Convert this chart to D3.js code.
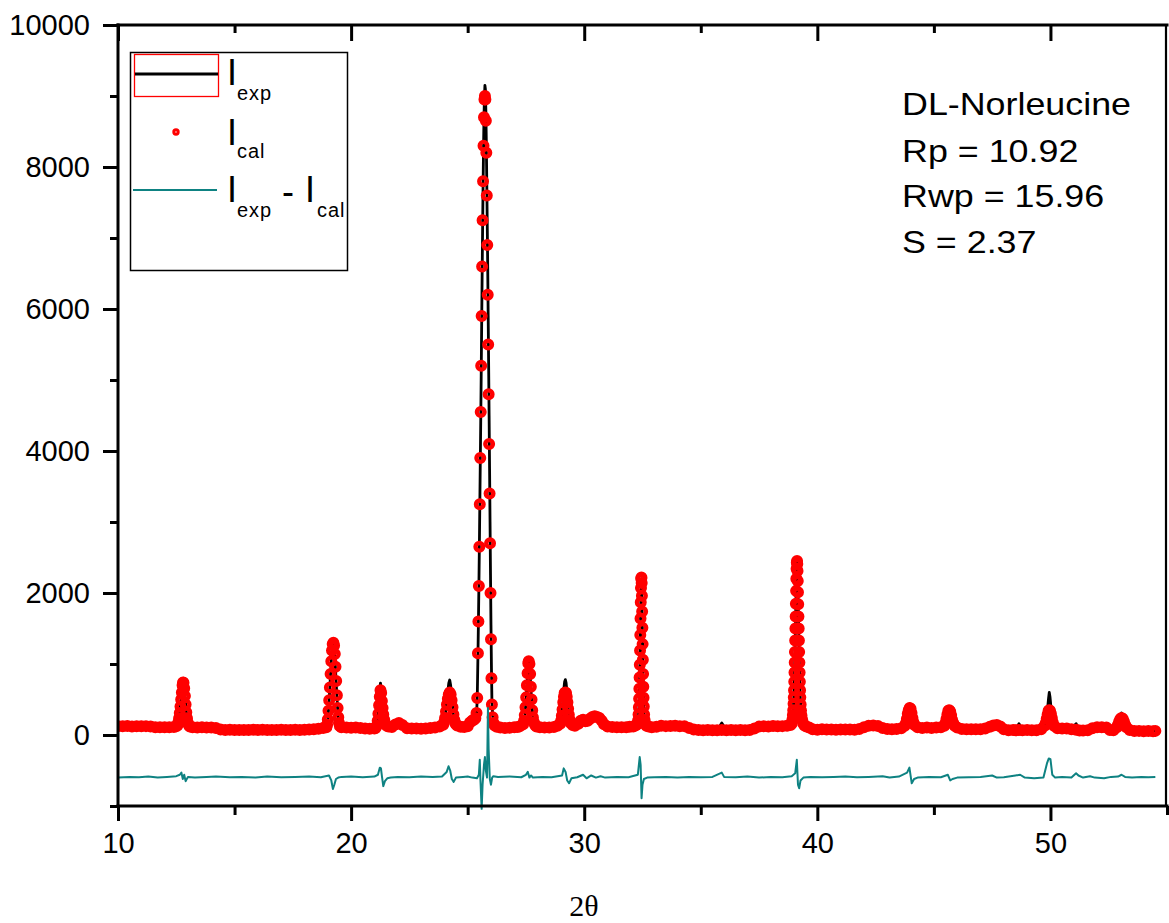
<!DOCTYPE html>
<html><head><meta charset="utf-8">
<script src="https://cdn.jsdelivr.net/npm/d3@7"></script>
<style>body{margin:0;background:#fff}svg{display:block}</style>
</head><body>
<svg id="chart" width="1169" height="923"></svg>
<script>
// ---- data ----
const twoTheta = [
10.0,10.2,10.4,10.6,10.8,11.0,11.2,11.4,11.6,11.8,12.0,12.2,12.4,
12.52,12.56,12.59,12.62,12.65,12.68,12.71,12.74,12.77,12.79,12.81,12.84,12.87,12.90,12.93,12.96,12.99,13.03,13.08,
13.2,13.4,13.6,13.8,14.0,14.2,14.4,14.6,14.8,15.0,15.2,15.4,15.6,15.8,16.0,16.2,16.4,16.6,16.8,17.0,17.2,17.4,17.6,17.8,18.0,18.2,18.4,18.6,18.8,
18.94,18.97,19.00,19.03,19.06,19.09,19.12,19.15,19.18,19.21,19.24,19.27,19.30,19.33,19.36,19.39,19.42,19.45,19.48,19.52,19.58,
19.8,20.0,20.2,20.4,20.6,20.8,21.0,
21.05,21.10,21.14,21.17,21.20,21.23,21.26,21.29,21.32,21.35,21.38,21.42,21.47,21.53,21.60,
21.75,21.9,22.05,22.2,22.4,22.6,22.8,23.0,23.2,23.4,23.6,23.8,
23.95,23.99,24.03,24.07,24.11,24.15,24.19,24.23,24.27,24.31,24.35,24.39,24.43,24.48,24.55,
24.7,24.85,25.0,25.1,25.2,25.27,25.33,25.38,25.41,
25.44,25.46,25.48,25.50,25.52,25.54,25.56,25.58,25.60,25.62,25.64,25.66,25.68,25.70,25.72,25.74,25.76,25.78,25.80,25.82,25.84,25.86,25.88,25.90,25.92,25.94,25.96,25.98,26.00,26.02,26.04,
26.07,26.11,26.16,26.25,26.4,26.6,26.8,27.0,27.15,27.25,
27.38,27.42,27.45,27.48,27.51,27.54,27.57,27.60,27.62,27.65,27.68,27.71,27.74,27.77,27.80,27.84,27.89,27.95,
28.1,28.3,28.5,28.7,28.85,
28.97,29.01,29.04,29.07,29.10,29.13,29.16,29.19,29.22,29.25,29.28,29.31,29.34,29.38,29.43,29.50,29.6,
29.75,29.85,29.95,30.05,30.15,30.25,30.35,30.45,30.55,30.65,30.75,30.85,
31.0,31.2,31.4,31.6,31.8,31.95,32.10,
32.20,32.28,32.31,32.33,32.345,32.355,32.365,32.375,32.385,32.395,32.405,32.415,32.425,32.435,32.445,32.455,32.465,32.475,32.485,32.495,32.505,32.515,32.525,32.535,32.545,32.555,32.57,32.59,32.62,32.67,32.76,
32.9,33.1,33.3,33.5,33.7,33.9,34.1,34.3,34.5,34.7,34.9,35.1,35.3,35.5,35.7,35.9,36.1,36.3,36.5,36.7,36.9,37.1,37.3,37.5,37.7,37.9,38.1,38.3,38.5,38.7,
38.85,38.90,38.93,38.95,38.965,38.98,38.99,39.00,39.01,39.02,39.03,39.04,39.05,39.06,39.07,39.08,39.09,39.10,39.11,39.12,39.13,39.14,39.15,39.16,39.17,39.18,39.19,39.20,39.21,39.22,39.23,39.24,39.25,39.26,39.27,39.285,39.30,39.32,39.35,39.39,39.45,39.53,
39.65,39.8,40.0,40.2,40.4,40.6,40.8,41.0,41.2,41.4,41.6,41.8,42.0,42.2,42.4,42.6,42.8,43.0,43.2,43.4,43.6,
43.75,43.80,43.84,43.88,43.92,43.96,44.00,44.04,44.08,44.12,44.17,
44.3,44.5,44.7,44.9,45.1,45.3,
45.45,45.50,45.54,45.58,45.62,45.66,45.70,45.74,45.78,45.83,45.89,
46.0,46.2,46.4,46.6,46.8,47.0,47.2,47.4,47.55,47.7,47.85,48.0,48.2,48.4,48.5,48.65,48.8,49.0,49.2,49.4,49.6,
49.75,49.80,49.84,49.88,49.92,49.95,49.98,50.02,50.06,50.10,50.15,
50.3,50.5,50.7,50.9,51.1,51.25,51.4,51.6,51.8,52.0,52.2,52.4,52.55,52.7,
52.85,52.90,52.95,53.00,53.05,53.10,53.15,53.20,53.26,
53.4,53.6,53.8,54.0,54.2,54.4,54.5
];
const iExp = [
125,120,128,122,126,120,127,118,108,112,106,112,115,
125,150,190,250,330,430,540,650,750,790,770,680,560,440,330,240,180,140,120,
108,104,110,102,106,98,75,70,76,72,68,74,70,76,68,72,67,74,70,76,69,73,77,71,74,78,82,90,100,
110,150,230,350,500,680,870,1040,1180,1270,1290,1240,1110,930,740,550,380,250,170,125,108,
104,100,106,98,90,86,92,
105,140,220,330,470,620,730,650,520,400,300,220,160,130,118,
112,150,170,140,95,88,92,86,94,98,105,120,
150,190,260,360,490,620,730,775,700,560,420,300,210,160,135,
115,110,120,180,210,215,230,300,500,
1100,1550,2050,2600,3200,3800,4400,5050,5750,6450,7100,7700,8250,8700,9000,9150,9100,8800,8350,7800,7200,6600,5900,5200,4500,3750,3000,2250,1550,950,500,
280,180,135,115,105,100,104,108,115,125,
150,190,260,370,510,680,850,990,1040,980,840,670,500,360,250,180,140,120,
108,104,108,115,130,
160,210,290,400,530,660,750,780,740,640,510,390,290,210,165,140,130,
160,200,215,195,200,230,255,265,255,240,200,150,
118,110,106,112,108,115,120,
135,150,200,280,380,500,640,800,980,1180,1400,1620,1850,2050,2180,2200,2120,1950,1730,1500,1270,1050,850,670,520,400,290,210,160,130,120,
110,115,130,125,130,128,122,126,100,75,70,66,72,68,65,170,68,72,66,70,68,74,90,120,125,118,128,122,125,130,
140,160,210,270,340,430,520,620,740,870,1010,1160,1320,1490,1660,1840,2020,2190,2330,2420,2440,2400,2300,2160,2000,1830,1660,1490,1320,1160,1010,870,740,620,520,420,340,270,210,165,135,120,
105,80,76,80,74,78,72,80,75,78,74,85,110,130,135,128,100,84,80,86,95,
130,170,240,330,410,440,410,330,250,180,140,
110,100,104,98,105,110,
130,170,230,300,360,380,350,290,220,170,130,
105,85,80,84,78,82,90,115,135,140,120,82,66,70,68,160,66,70,64,68,80,
130,180,260,380,520,600,540,400,270,180,130,
95,90,92,80,160,64,62,66,95,110,108,105,70,68,
110,150,210,270,310,280,210,150,110,
70,55,58,52,56,54,58
];
const iCal = [
125,122,126,120,124,122,125,120,110,110,108,110,114,
125,145,180,235,310,400,500,600,700,740,735,660,550,430,320,235,175,140,120,
110,105,108,104,105,100,78,72,74,70,70,72,71,74,70,73,69,72,71,74,70,72,75,72,74,77,80,88,98,
110,145,220,340,490,670,860,1040,1190,1280,1300,1260,1140,960,760,560,380,250,170,125,108,
105,102,104,100,92,88,90,
100,130,200,300,420,540,630,590,480,380,290,215,160,130,118,
112,148,168,140,96,90,90,88,92,97,104,118,
145,180,240,330,430,510,570,600,570,490,390,290,210,160,135,
115,112,122,175,205,215,235,310,520,
1150,1600,2100,2650,3250,3900,4550,5200,5900,6600,7250,7800,8300,8700,8950,9000,8950,8650,8200,7600,6900,6200,5500,4800,4100,3400,2700,2000,1350,800,430,
250,170,135,115,106,100,102,108,114,125,
150,200,280,390,530,700,870,1010,1040,1000,860,680,500,350,245,180,140,120,
110,104,106,114,130,
160,200,270,360,460,540,590,600,590,540,460,370,285,210,165,140,130,
160,200,215,195,200,230,255,265,255,240,200,150,
118,112,108,110,109,115,120,
135,150,205,290,390,510,650,810,990,1190,1410,1640,1870,2070,2200,2220,2140,1960,1740,1510,1280,1060,860,680,525,400,290,210,160,130,120,
110,115,130,125,128,130,122,125,100,76,70,68,70,68,66,70,68,70,67,70,68,72,90,118,124,120,126,122,125,130,
140,160,215,280,350,440,530,630,750,880,1020,1170,1330,1500,1670,1850,2030,2200,2340,2430,2450,2410,2310,2170,2010,1840,1670,1500,1330,1170,1020,880,750,630,530,430,345,275,215,165,135,120,
106,82,75,80,76,78,74,79,76,78,75,85,110,130,135,128,100,85,80,86,95,
130,165,225,300,350,380,370,310,240,180,140,
110,100,104,100,104,110,
130,170,225,290,340,350,330,280,215,170,130,
105,86,80,82,80,82,90,115,135,140,120,82,68,70,68,70,66,70,66,68,80,
130,170,230,290,340,350,340,300,240,175,130,
95,90,92,80,75,64,62,66,95,110,108,105,70,68,
110,145,190,225,240,230,190,145,110,
70,55,58,52,56,54,58
];
// difference curve (I_exp - I_cal, shown offset below the pattern)
const diffTheta = [
10.0,10.5,10.9,11.3,11.7,12.1,12.5,
12.65,12.72,12.78,12.84,12.9,13.0,
13.3,13.8,14.2,14.8,15.3,15.9,16.4,17.0,17.6,18.2,18.7,
19.05,19.15,19.22,19.28,19.35,19.45,19.6,
20.0,20.5,21.0,
21.15,21.23,21.28,21.33,21.38,21.45,21.55,21.7,
22.0,22.5,23.0,23.5,23.9,
24.1,24.18,24.25,24.32,24.4,24.5,
24.8,25.0,25.2,
25.4,25.48,25.52,25.55,25.6,25.64,25.7,25.74,25.78,25.83,25.87,25.9,25.95,26.0,26.05,26.1,
26.3,26.8,27.3,
27.5,27.58,27.65,27.72,27.8,28.2,28.6,
29.05,29.12,29.2,29.27,29.35,29.45,29.7,
29.95,30.1,30.3,30.5,30.7,30.9,31.4,31.9,
32.3,32.38,32.42,32.46,32.5,32.56,32.7,
33.0,33.5,34.0,34.5,35.0,35.5,35.9,36.0,36.5,37.0,37.5,38.0,38.5,38.9,
39.05,39.12,39.17,39.22,39.28,39.4,
39.7,40.2,40.7,41.2,41.7,42.2,42.8,43.1,43.5,
43.85,43.95,44.05,44.15,44.3,
44.8,45.3,
45.6,45.7,45.8,46.0,
46.5,47.0,47.5,47.7,48.0,48.5,48.7,48.9,49.3,49.7,
49.85,49.93,50.0,50.08,50.2,
50.5,50.9,51.1,51.2,51.4,51.7,51.9,52.3,52.6,52.9,
53.05,53.2,53.5,53.9,54.2,54.5
];
const iDiff = [
-600,-590,-595,-585,-600,-590,-580,
-560,-530,-620,-560,-650,-590,
-600,-590,-585,-595,-590,-600,-585,-595,-590,-585,-595,
-570,-640,-760,-700,-620,-600,-590,
-585,-595,-585,
-560,-460,-470,-600,-720,-650,-610,-600,
-590,-595,-585,-590,-585,
-520,-440,-500,-620,-660,-600,
-590,-585,-600,
-610,-560,-350,-650,-1040,-700,-420,-310,-500,-600,380,-200,-620,-700,-600,-580,
-590,-585,-595,
-560,-520,-600,-570,-600,-590,-595,
-570,-470,-520,-640,-680,-610,-595,
-560,-610,-570,-600,-580,-600,-590,-595,
-560,-310,-420,-890,-700,-620,-600,
-595,-590,-600,-590,-595,-590,-530,-590,-595,-585,-600,-590,-595,-580,
-540,-350,-700,-750,-640,-600,
-590,-595,-590,-585,-595,-590,-580,-600,-585,
-530,-460,-680,-620,-600,
-590,-595,
-560,-640,-620,-600,
-595,-590,-570,-600,-595,-570,-560,-600,-610,-600,
-400,-330,-340,-560,-600,
-590,-600,-540,-570,-600,-580,-600,-610,-590,-585,
-560,-590,-600,-590,-595,-590
];
const xMajorTicks = [10, 20, 30, 40, 50];
const xMinorTicks = [15, 25, 35, 45, 55];
const yMajorTicks = [0, 2000, 4000, 6000, 8000, 10000];
const yMinorTicks = [-1000, 1000, 3000, 5000, 7000, 9000];
const infoLines = ["DL-Norleucine", "Rp = 10.92", "Rwp = 15.96", "S = 2.37"];
const xTitle = "2θ";

// ---- drawing ----
const SANS = "'Liberation Sans', Arial, Helvetica, sans-serif";
const RED = "#ff0000", TEAL = "#0e8282";
const svg = d3.select("#chart");
const x = d3.scaleLinear().domain([10, 55]).range([118, 1167]);
const y = d3.scaleLinear().domain([-1000, 10000]).range([806, 25]);

svg.append("defs").append("clipPath").attr("id", "plotClip")
  .append("rect").attr("x", x(10)).attr("y", y(10000))
  .attr("width", x(55) - x(10)).attr("height", y(-1000) - y(10000) + 4);

const plot = svg.append("g").attr("clip-path", "url(#plotClip)");
const n = Math.min(twoTheta.length, iExp.length, iCal.length);
const expPts = d3.range(n).map(i => [twoTheta[i], iExp[i]]);
const calPts = d3.range(n).map(i => [twoTheta[i], iCal[i]]);
const m = Math.min(diffTheta.length, iDiff.length);
const diffPts = d3.range(m).map(i => [diffTheta[i], iDiff[i]]);
const line = d3.line().x(d => x(d[0])).y(d => y(d[1]));

plot.append("path").datum(expPts).attr("d", line)
  .attr("fill", "none").attr("stroke", "#000").attr("stroke-width", 2.8)
  .attr("stroke-linejoin", "round");

plot.append("g").selectAll("circle").data(calPts).join("circle")
  .attr("cx", d => x(d[0])).attr("cy", d => y(d[1])).attr("r", 3.8)
  .attr("fill", "none").attr("stroke", RED).attr("stroke-width", 4.4);

plot.append("path").datum(diffPts).attr("d", line)
  .attr("fill", "none").attr("stroke", TEAL).attr("stroke-width", 2)
  .attr("stroke-linejoin", "round");

// axes
function styleAxis(g) {
  g.select(".domain").remove();
  g.selectAll(".tick line").attr("stroke", "#000").attr("stroke-width", 3);
  g.selectAll(".tick text").attr("fill", "#000").style("font-family", SANS).style("font-size", "29px");
}
svg.append("g").attr("transform", `translate(0,${y(-1000)})`)
  .call(d3.axisBottom(x).tickValues(xMajorTicks).tickSize(15).tickPadding(11).tickFormat(d3.format("d")))
  .call(styleAxis);
svg.append("g").attr("transform", `translate(0,${y(-1000)})`)
  .call(d3.axisBottom(x).tickValues(xMinorTicks).tickSize(9).tickFormat(""))
  .call(styleAxis);
svg.append("g").attr("transform", `translate(0,${y(10000)})`)
  .call(d3.axisTop(x).tickValues(xMajorTicks).tickSize(-16).tickFormat(""))
  .call(styleAxis);
svg.append("g").attr("transform", `translate(0,${y(10000)})`)
  .call(d3.axisTop(x).tickValues(xMinorTicks.filter(v => v < 55)).tickSize(-8).tickFormat(""))
  .call(styleAxis);
svg.append("g").attr("transform", `translate(${x(10)},0)`)
  .call(d3.axisLeft(y).tickValues(yMajorTicks).tickSize(15).tickPadding(13).tickFormat(d3.format("d")))
  .call(styleAxis);
svg.append("g").attr("transform", `translate(${x(10)},0)`)
  .call(d3.axisLeft(y).tickValues(yMinorTicks).tickSize(8).tickFormat(""))
  .call(styleAxis);

// frame
const frame = svg.append("g").attr("stroke", "#000").attr("stroke-linecap", "square");
frame.append("line").attr("x1", x(10)).attr("x2", x(55)).attr("y1", y(10000)).attr("y2", y(10000)).attr("stroke-width", 3);
frame.append("line").attr("x1", x(10)).attr("x2", x(55)).attr("y1", y(-1000)).attr("y2", y(-1000)).attr("stroke-width", 3);
frame.append("line").attr("x1", x(10)).attr("x2", x(10)).attr("y1", y(10000)).attr("y2", y(-1000)).attr("stroke-width", 3);
frame.append("line").attr("x1", x(55) - 1).attr("x2", x(55) - 1).attr("y1", y(10000)).attr("y2", y(-1000)).attr("stroke-width", 2.2);

// x title
svg.append("text").attr("x", 584).attr("y", 916).attr("text-anchor", "middle")
  .style("font-family", "'Liberation Serif', 'Times New Roman', serif").style("font-size", "30px")
  .text(xTitle);

// info text
const info = svg.append("g").attr("transform", "translate(902,0) scale(1.12,1)");
infoLines.forEach((t, i) => {
  info.append("text").attr("x", 0).attr("y", [115, 162, 207, 253][i])
    .style("font-family", SANS).style("font-size", "32px").attr("fill", "#000").text(t);
});

// legend
const lg = svg.append("g");
lg.append("rect").attr("x", 130.5).attr("y", 52.5).attr("width", 217).attr("height", 218)
  .attr("fill", "#fff").attr("stroke", "#000").attr("stroke-width", 1.5);
lg.append("rect").attr("x", 134.5).attr("y", 54.5).attr("width", 84).attr("height", 42)
  .attr("fill", "none").attr("stroke", RED).attr("stroke-width", 1.3);
lg.append("line").attr("x1", 135).attr("x2", 218).attr("y1", 74).attr("y2", 74)
  .attr("stroke", "#000").attr("stroke-width", 3);
lg.append("circle").attr("cx", 176).attr("cy", 132).attr("r", 2.2)
  .attr("fill", "none").attr("stroke", RED).attr("stroke-width", 3);
lg.append("line").attr("x1", 133).attr("x2", 217).attr("y1", 190).attr("y2", 190)
  .attr("stroke", TEAL).attr("stroke-width", 2);
function big(xp, yp, t) {
  lg.append("text").attr("x", xp).attr("y", yp).style("font-family", SANS)
    .style("font-size", "36px").attr("fill", "#000").text(t);
}
function sub(xp, yp, t) {
  lg.append("text").attr("x", xp).attr("y", yp).style("font-family", SANS)
    .style("font-size", "20px").style("letter-spacing", "1px").attr("fill", "#000").text(t);
}
big(227, 85, "I"); sub(237, 100, "exp");
big(227, 145, "I"); sub(237, 158, "cal");
big(227, 202, "I"); sub(237, 217, "exp");
big(282, 204, "-");
big(305, 202, "I"); sub(317, 217, "cal");
</script>
</body></html>
